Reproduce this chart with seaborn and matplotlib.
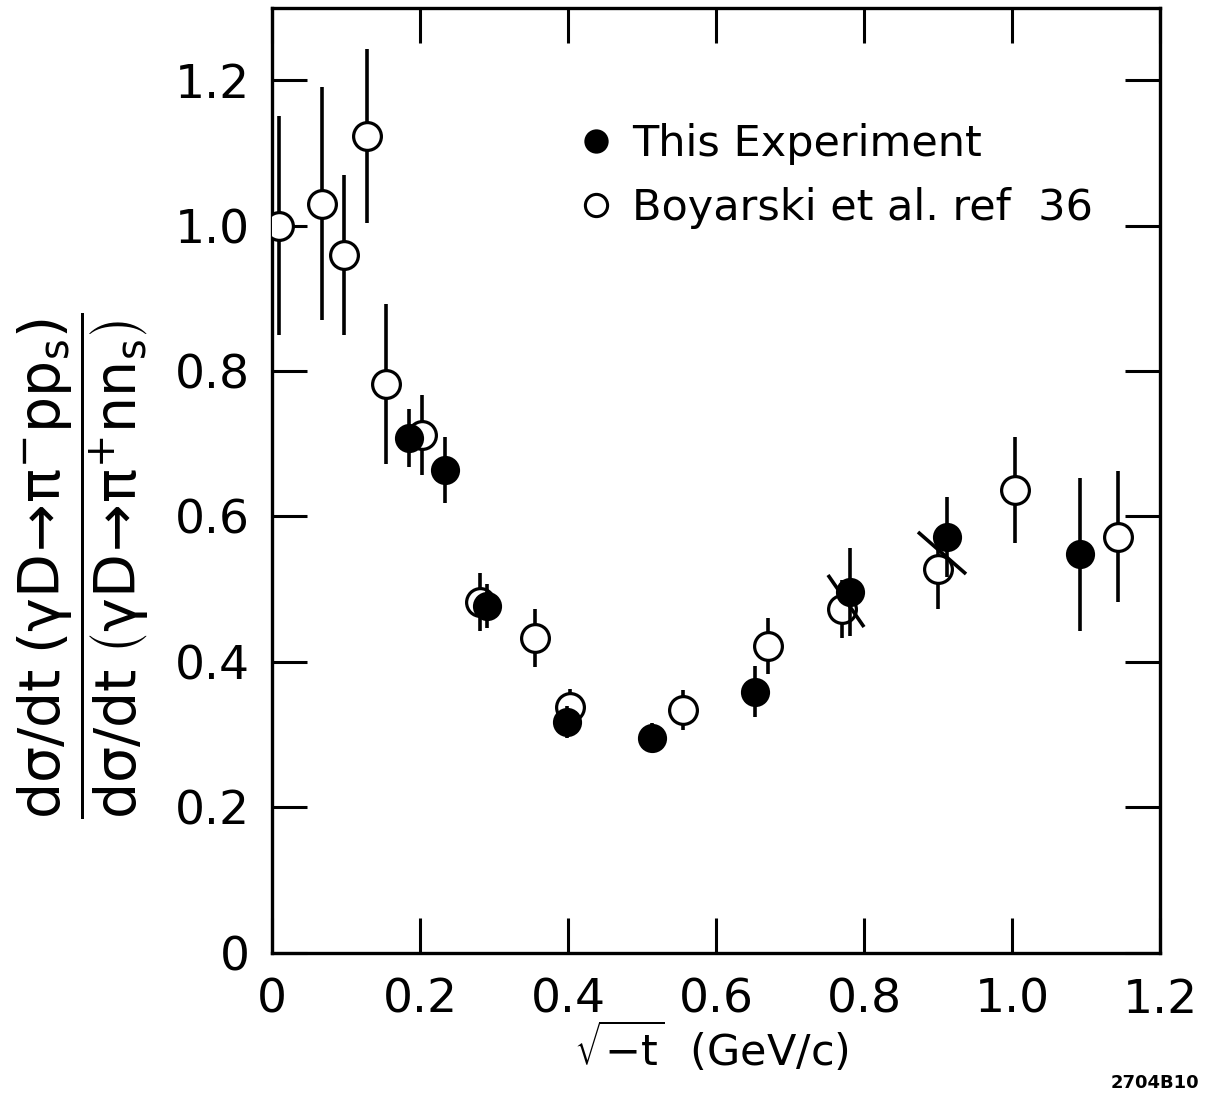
import numpy as np
import pandas as pd
import matplotlib
matplotlib.use("Agg")
import matplotlib.pyplot as plt
from matplotlib.lines import Line2D
from matplotlib.markers import MarkerStyle
from matplotlib.transforms import Affine2D
import seaborn as sns

# This experiment (filled circles)
exp_t = [0.185, 0.234, 0.290, 0.399, 0.514, 0.653, 0.781, 0.912, 1.092]
exp_ratio = [0.708, 0.664, 0.477, 0.318, 0.296, 0.359, 0.496, 0.572, 0.548]
exp_err = [0.040, 0.045, 0.030, 0.022, 0.020, 0.035, 0.060, 0.055, 0.105]

# Boyarski et al., ref 36 (open circles)
boy_t = [0.010, 0.068, 0.097, 0.128, 0.154, 0.203, 0.281, 0.355, 0.403,
         0.555, 0.670, 0.770, 0.900, 1.004, 1.143]
boy_ratio = [1.000, 1.030, 0.960, 1.123, 0.782, 0.712, 0.482, 0.433, 0.338,
             0.334, 0.422, 0.473, 0.528, 0.636, 0.572]
boy_err = [0.150, 0.160, 0.110, 0.120, 0.110, 0.055, 0.040, 0.040, 0.025,
           0.027, 0.038, 0.040, 0.055, 0.073, 0.090]

x_ticks = [0.0, 0.2, 0.4, 0.6, 0.8, 1.0, 1.2]
x_tick_labels = ["0", "0.2", "0.4", "0.6", "0.8", "1.0", "1.2"]
y_ticks = [0.0, 0.2, 0.4, 0.6, 0.8, 1.0, 1.2]
y_tick_labels = ["0", "0.2", "0.4", "0.6", "0.8", "1.0", "1.2"]

legend_labels = ["This Experiment", "Boyarski et al. ref  36"]

# pairs of overlapping points that carry a diagonal slash: (exp index, boy index, angle)
slash_pairs = [(6, 11, -56), (7, 12, -42)]

sns.set_theme(style="ticks")
plt.rcParams["font.family"] = ["DejaVu Sans"]
plt.rcParams["mathtext.fontset"] = "dejavusans"
plt.rcParams["mathtext.default"] = "regular"
plt.rcParams["text.color"] = "black"

fig = plt.figure(figsize=(12.13, 10.99), dpi=100)
ax = fig.add_axes([0.2243, 0.1329, 0.732, 0.8598])

exp_df = pd.DataFrame({"t": exp_t, "ratio": exp_ratio, "err": exp_err})
boy_df = pd.DataFrame({"t": boy_t, "ratio": boy_ratio, "err": boy_err})

# error bars
ax.errorbar(boy_df["t"], boy_df["ratio"], yerr=boy_df["err"], fmt="none",
            ecolor="black", elinewidth=2.6, capsize=0, zorder=2)
ax.errorbar(exp_df["t"], exp_df["ratio"], yerr=exp_df["err"], fmt="none",
            ecolor="black", elinewidth=2.6, capsize=0, zorder=4)

# points
sns.scatterplot(data=boy_df, x="t", y="ratio", ax=ax, marker="o", s=400,
                facecolor="white", edgecolor="black", linewidth=2.3,
                zorder=3, legend=False)
sns.scatterplot(data=exp_df, x="t", y="ratio", ax=ax, marker="o", s=380,
                facecolor="black", edgecolor="black", linewidth=1.5,
                zorder=5, legend=False)

# diagonal slashes through the overlapping pairs
for ie, ib, ang in slash_pairs:
    cx = 0.5 * (exp_t[ie] + boy_t[ib])
    cy = 0.5 * (exp_ratio[ie] + boy_ratio[ib])
    ms = MarkerStyle("_", transform=Affine2D().rotate_deg(ang))
    ax.plot([cx], [cy], marker=ms, markersize=46, markeredgewidth=2.6,
            color="black", linestyle="none", zorder=6)

ax.set_xlim(0, 1.2)
ax.set_ylim(0, 1.299)
ax.set_xticks(x_ticks)
ax.set_xticklabels(x_tick_labels)
ax.set_yticks(y_ticks)
ax.set_yticklabels(y_tick_labels)
ax.tick_params(axis="both", direction="in", length=25, width=2.2,
               top=True, right=True, labelsize=34, color="black",
               labelcolor="black")
ax.tick_params(axis="x", pad=18)
ax.tick_params(axis="y", pad=16)
for sp in ax.spines.values():
    sp.set_linewidth(2.4)
    sp.set_color("black")

ax.set_ylabel(r"$\dfrac{d\sigma/dt\;\left(\gamma D\!\rightarrow\!\pi^{-}pp_s\right)}"
              r"{d\sigma/dt\;\left(\gamma D\!\rightarrow\!\pi^{+}nn_s\right)}$",
              fontsize=41, va="center", color="black")
ax.yaxis.set_label_coords(-0.213, 0.41)
ax.set_xlabel(r"$\sqrt{-t}$  (GeV/c)", fontsize=31, va="center", color="black")
ax.xaxis.set_label_coords(0.495, -0.1)

handles = [
    Line2D([], [], marker="o", linestyle="none", markersize=16,
           markerfacecolor="black", markeredgecolor="black", markeredgewidth=1.5),
    Line2D([], [], marker="o", linestyle="none", markersize=16,
           markerfacecolor="white", markeredgecolor="black", markeredgewidth=2.2),
]
leg = ax.legend(handles, legend_labels, loc="upper left",
                bbox_to_anchor=(0.345, 0.878), frameon=False, fontsize=31,
                handlelength=0.8, handletextpad=0.45, labelspacing=0.5,
                borderpad=0, borderaxespad=0)
for txt in leg.get_texts():
    txt.set_color("black")

fig.text(0.989, 0.0146, "2704B10", ha="right", va="center", fontsize=13,
         fontweight="bold", color="black")

fig.savefig("out.png", dpi=100, facecolor="white")
